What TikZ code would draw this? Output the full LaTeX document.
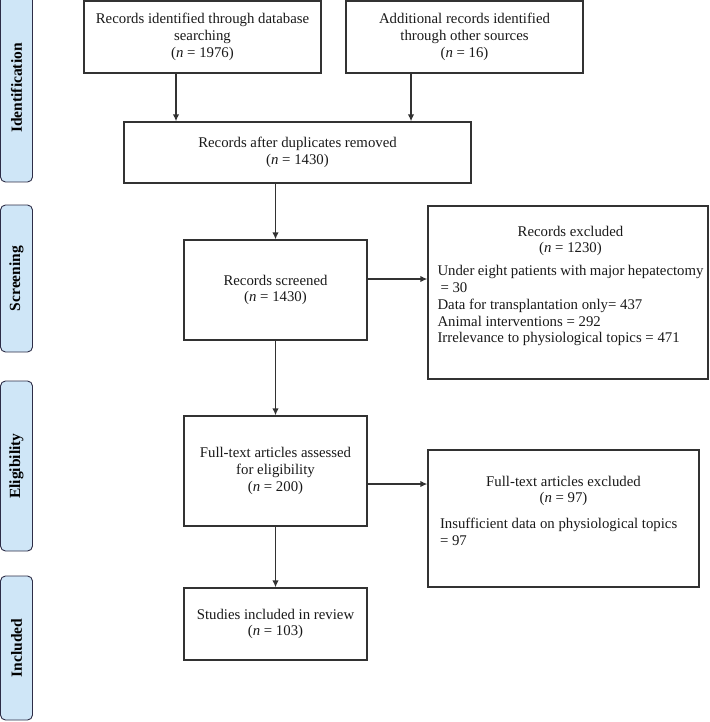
\documentclass[tikz,border=0pt]{standalone}
\usepackage{fontspec}
\setmainfont{Liberation Serif}
\usetikzlibrary{arrows.meta}
\definecolor{bandblue}{RGB}{207,230,247}
\definecolor{linegray}{RGB}{50,50,50}
\begin{document}
\begin{tikzpicture}[x=1pt, y=-1pt,
		box/.style={draw=linegray, line width=1.3pt, inner sep=0pt, align=center, text=black!90, font=\fontsize{14.8}{16.8}\selectfont},
		band/.style={draw=linegray!90!blue, line width=0.9pt, fill=bandblue, rounded corners=5pt, rotate=90, minimum height=32pt, inner sep=0pt, font=\fontsize{15.5}{17}\selectfont\bfseries},
		arr/.style={draw=linegray, line width=1.6pt, -{Latex[length=7pt, width=6.5pt]}}]
		\useasboundingbox (0,0) rectangle (709,722);
		% phases
		\node[band, minimum width=188pt] (ident) at (16.5,88) {Identification};
		\node[band, minimum width=147pt] (screen) at (16.5,278.5) {Screening};
		\node[band, minimum width=170pt] (elig) at (16.5,466) {Eligibility};
		\node[band, minimum width=144pt] (incl) at (16.5,648) {Included};
		% boxes
		\node[box, minimum width=237pt, minimum height=72pt] (db) at (202.5,37) {Records identified through database\\searching\\(\textit{n} = 1976)};
		\node[box, minimum width=237pt, minimum height=72pt] (other) at (464.5,37) {Additional records identified\\through other sources\\(\textit{n} = 16)};
		\node[box, minimum width=347pt, minimum height=61pt] (dup) at (297.5,152.5) {Records after duplicates removed\\(\textit{n} = 1430)};
		\node[box, minimum width=183pt, minimum height=100pt] (screened) at (275.5,290) {Records screened\\(\textit{n} = 1430)};
		\node[box, minimum width=280pt, minimum height=173pt] (excl) at (568,292.5) {\hspace*{5pt}\parbox[c][173pt][t]{266pt}{\centering\rule{0pt}{30pt}Records excluded\\(\textit{n} = 1230)\par\vspace{6pt}\raggedright
			Under eight patients with major hepatectomy\\\hspace*{3pt}= 30\\Data for transplantation only= 437\\Animal interventions = 292\\Irrelevance to physiological topics = 471}};
		\node[box, minimum width=183pt, minimum height=110pt] (assessed) at (275.5,471) {Full-text articles assessed\\for eligibility\\(\textit{n} = 200)};
		\node[box, minimum width=271pt, minimum height=137pt] (ftex) at (563.5,518.5) {\parbox[c][137pt][t]{247pt}{\centering\rule{0pt}{36pt}Full-text articles excluded\\(\textit{n} = 97)\par\vspace{9pt}\raggedright
			Insufficient data on physiological topics\\= 97}};
		\node[box, minimum width=183pt, minimum height=72pt] (studies) at (275.5,624) {Studies included in review\\(\textit{n} = 103)};
		% arrows
		\draw[arr] ([xshift=-26.5pt]db.south) -- ([xshift=-26.5pt]db.south |- dup.north);
		\draw[arr] ([xshift=-53.5pt]other.south) -- ([xshift=-53.5pt]other.south |- dup.north);
		\draw[arr] (dup.south -| screened.north) -- (screened.north);
		\draw[arr] ([yshift=11pt]screened.east) -- ([yshift=11pt]screened.east -| excl.west);
		\draw[arr] (screened.south) -- (assessed.north);
		\draw[arr] ([yshift=-13pt]assessed.east) -- ([yshift=-13pt]assessed.east -| ftex.west);
		\draw[arr] (assessed.south) -- (studies.north);
	\end{tikzpicture}
\end{document}
